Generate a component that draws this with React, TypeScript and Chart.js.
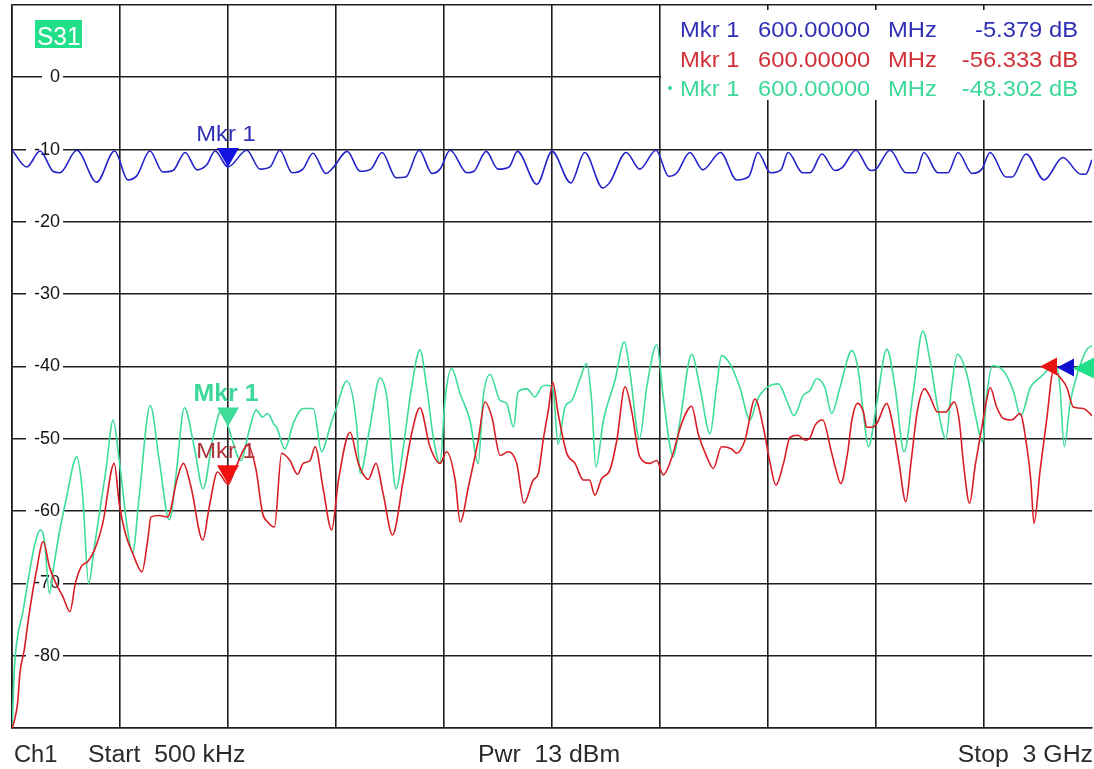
import React, { useEffect, useRef } from 'react';
import { Chart, registerables } from 'chart.js';

Chart.register(...registerables);

const FONT = "'Liberation Sans', Arial, Helvetica, sans-serif";

// ---- axes ----
const freqMinMHz = 0;
const freqMaxMHz = 3000;
const freqStepMHz = 300;
const dbMin = -90;
const dbMax = 10;
const dbStep = 10;

// ---- S31 traces (frequency MHz, level dB) ----
const blueFreq = [
  0.5, 41, 78, 114, 133, 180, 235, 285, 322, 347, 383, 419, 447, 481, 514, 541, 564, 600, 652, 689,
  717, 744, 778, 808, 836, 872, 892, 931, 967, 997, 1028, 1067, 1094, 1131, 1167, 1189, 1217, 1264,
  1283, 1317, 1350, 1381, 1404, 1458, 1500, 1552, 1591, 1641, 1661, 1706, 1744, 1789, 1824, 1847,
  1883, 1919, 1968, 2013, 2047, 2072, 2107, 2136, 2156, 2196, 2217, 2250, 2286, 2306, 2344, 2385,
  2400, 2439, 2483, 2511, 2533, 2572, 2600, 2628, 2667, 2694, 2717, 2761, 2778, 2817, 2867, 2919,
  2969, 2983, 3000,
];
const blueDb = [
  -10.1, -12.4, -10.2, -13.0, -13.2, -10.1, -14.5, -10.2, -14.2, -13.6, -10.2, -13.1, -12.9, -10.4,
  -12.8, -12.1, -10.2, -12.4, -10.1, -12.7, -12.4, -10.1, -13.2, -12.7, -10.5, -13.3, -12.5, -10.25,
  -13.0, -12.7, -10.4, -13.9, -13.8, -10.1, -13.3, -12.7, -10.1, -13.2, -13.0, -10.25, -12.7, -12.4,
  -10.25, -14.8, -10.25, -14.6, -10.4, -15.3, -14.5, -10.4, -12.7, -10.1, -13.7, -13.2, -10.4, -12.8,
  -10.4, -14.2, -13.7, -10.4, -13.2, -12.8, -10.4, -13.2, -13.2, -10.6, -12.9, -12.5, -10.1, -12.9,
  -12.7, -10.1, -13.2, -13.2, -10.4, -13.2, -13.2, -10.4, -13.3, -12.7, -10.4, -13.8, -13.8, -10.6,
  -14.2, -11.1, -13.4, -13.4, -11.4,
];

const redFreq = [
  0.5, 6.5, 15.7, 22, 34, 48, 66.7, 87, 104, 122, 141, 161, 176, 192, 210, 229, 252, 284, 298, 315,
  335, 361, 377, 386, 409, 432, 460, 476, 497, 530, 548, 571, 600, 622, 655, 678, 696, 710, 729, 749,
  772, 793, 809, 828, 842, 865, 888, 907, 939, 962, 990, 1011, 1031, 1057, 1087, 1110, 1133, 1161,
  1189, 1207, 1231, 1245, 1268, 1295, 1314, 1333, 1356, 1379, 1402, 1422, 1448, 1462, 1476, 1490,
  1502, 1517, 1541, 1564, 1587, 1604, 1619, 1638, 1661, 1680, 1703, 1721, 1744, 1772, 1791, 1809,
  1832, 1860, 1888, 1906, 1930, 1948, 1971, 1999, 2013, 2036, 2064, 2087, 2106, 2122, 2143, 2161,
  2183, 2204, 2217, 2231, 2252, 2275, 2289, 2302, 2321, 2333, 2349, 2365, 2374, 2388, 2402, 2430,
  2444, 2463, 2483, 2497, 2515, 2535, 2550, 2571, 2594, 2617, 2631, 2644, 2660, 2675, 2694, 2707,
  2717, 2735, 2754, 2777, 2800, 2819, 2830, 2839, 2856, 2874, 2893, 2911, 2930, 2948, 2976, 3000,
];
const redDb = [
  -90, -89, -86.5, -82.4, -79.2, -74.1, -68.6, -64.2, -67.7, -70, -71.8, -73.9, -70, -67.7, -67,
  -65.4, -61.7, -53.4, -59, -63.1, -65.8, -68.4, -64, -60.8, -60.6, -60.8, -55.3, -53.4, -56.6, -64,
  -59.4, -54.6, -56.3, -53.9, -50.9, -54.3, -60.3, -61.5, -62.2, -52, -53, -54.9, -53.4, -53, -51.1,
  -57.1, -62.6, -55.7, -49.1, -53.4, -55.6, -53.4, -57.6, -63.3, -55.7, -49.3, -45.7, -51.1, -53.4,
  -51.8, -55.7, -61.5, -56.6, -50.2, -44.9, -47, -52.3, -51.8, -53.4, -58.9, -55.7, -54.8, -50, -46,
  -42.2, -46.5, -52, -53.4, -55.7, -55.7, -57.8, -55.5, -54.3, -50.2, -42.8, -46.1, -52.5, -53.4,
  -53, -55, -52.7, -47.9, -45.5, -49.3, -52.5, -54.1, -51.1, -51.4, -52, -50.2, -44.5, -48.4, -53.4,
  -56.4, -53.4, -49.8, -49.5, -50.2, -49.8, -48.1, -47.4, -51.6, -54.3, -56.2, -52, -47.4, -45.1,
  -46.3, -48.4, -48.4, -47.9, -45.1, -47.4, -53, -58.7, -53.4, -46.1, -43.1, -44.2, -46.3, -46.3,
  -44.9, -47.4, -53.9, -58.9, -53.9, -48.4, -44.7, -42.9, -45.6, -47.2, -47.4, -46.5, -51.1, -55.7,
  -61.7, -54.3, -47.4, -40.6, -41.5, -42.9, -45.6, -45.8, -46.8,
];

const greenFreq = [
  0.5, 6.5, 15.7, 29.6, 48, 62, 78, 90, 104, 113, 131, 150, 180, 196, 213, 229, 261, 281, 298, 321,
  335, 354, 384, 409, 437, 456, 479, 506, 531, 557, 581, 600, 636, 659, 678, 696, 710, 729, 735, 758,
  781, 809, 837, 860, 883, 902, 930, 957, 967, 994, 1022, 1041, 1067, 1087, 1110, 1133, 1152, 1170,
  1189, 1203, 1221, 1245, 1272, 1295, 1309, 1328, 1356, 1374, 1393, 1406, 1430, 1453, 1471, 1485,
  1502, 1517, 1536, 1555, 1578, 1596, 1610, 1622, 1643, 1675, 1701, 1717, 1743, 1763, 1791, 1809,
  1837, 1856, 1888, 1911, 1939, 1957, 1971, 1994, 2022, 2050, 2069, 2097, 2129, 2152, 2172, 2198,
  2217, 2235, 2258, 2277, 2300, 2333, 2351, 2365, 2379, 2402, 2430, 2453, 2478, 2504, 2530, 2550,
  2573, 2594, 2610, 2626, 2652, 2675, 2696, 2707, 2724, 2754, 2781, 2802, 2829, 2856, 2883, 2902,
  2911, 2923, 2939, 2962, 2985, 3000,
];
const greenDb = [
  -90, -81.9, -77.3, -74.1, -68.6, -64.9, -62.6, -64, -71.4, -68.6, -63.1, -58.5, -52.5, -57.6, -70,
  -64.9, -54.3, -47.4, -53, -62.6, -65.8, -57.6, -45.4, -53, -61.2, -54.8, -45.7, -51.1, -56.9, -50.2,
  -46.1, -48.3, -53, -48.8, -46, -47, -46.5, -48.1, -48.4, -51.4, -47.9, -45.8, -45.8, -51.8, -48.4,
  -45.6, -42, -47.9, -54.8, -48.4, -41.6, -44.2, -56.9, -51.1, -42.9, -37.7, -42.9, -49.7, -53.4,
  -44.5, -40.3, -43.8, -47.4, -53.4, -44.2, -41.1, -44.7, -45.1, -48.4, -43.5, -43.1, -44.2, -42.8,
  -42.6, -42.9, -50.7, -45.6, -44.7, -41.7, -39.6, -44.7, -53.9, -47.4, -41.9, -36.6, -41, -50, -42.9,
  -37, -44.2, -52.5, -47.4, -38.3, -42.9, -49.3, -42.9, -38.5, -39.6, -42.9, -47.4, -44.7, -42.9,
  -42.4, -44.7, -46.8, -44, -43.3, -41.7, -42.9, -46.5, -42.9, -37.8, -40.6, -46.5, -51.1, -45.1,
  -37.6, -42.9, -51.8, -43.3, -35.1, -39.2, -46.1, -50, -42.9, -38.3, -41, -46.5, -50.4, -44.2, -39.9,
  -40.6, -43.3, -46.8, -42.9, -41.5, -40.3, -40.1, -42.9, -51.1, -45.1, -40.6, -37.7, -37.1,
];

// ---- texts ----
const traceName = 'S31';
const markerName = 'Mkr 1';
const markerFreqMHz = 600;
const markerFreqText = '600.00000';
const markerFreqUnit = 'MHz';
const markerReadouts = ['-5.379 dB', '-56.333 dB', '-48.302 dB'];
const footerTexts = ['Ch1', 'Start  500 kHz', 'Pwr  13 dBm', 'Stop  3 GHz'];
const refLevelDb = -40;
const legendFromMHz = 1800;

// ---- colours ----
const BLUE = '#2222c8';
const RED = '#d81e24';
const GREEN = '#3ddc98';
const BLUE_TXT = '#3030b4';
const RED_TXT = '#d03038';
const GREEN_TXT = '#3cd89a';
const GRID = '#1e1e1e';

const pts = (f: number[], d: number[]) => f.map((x, i) => ({ x, y: d[i] }));

function txt(ctx: CanvasRenderingContext2D, s: string, x: number, y: number, font: string,
  color: string, align: CanvasTextAlign, sx: number) {
  ctx.save();
  ctx.font = font;
  ctx.fillStyle = color;
  ctx.textBaseline = 'alphabetic';
  ctx.textAlign = align;
  ctx.translate(x, y);
  ctx.scale(sx, 1);
  ctx.fillText(s, 0, 0);
  ctx.restore();
}

function poly(ctx: CanvasRenderingContext2D, p: number[][], color: string) {
  ctx.save();
  ctx.beginPath();
  ctx.moveTo(p[0][0], p[0][1]);
  for (let i = 1; i < p.length; i++) ctx.lineTo(p[i][0], p[i][1]);
  ctx.closePath();
  ctx.fillStyle = color;
  ctx.fill();
  ctx.restore();
}

const zeroFit = (s: any) => {
  if (s.isHorizontal()) s.height = 0; else s.width = 0;
  s.paddingTop = 0;
  s.paddingBottom = 0;
  s.paddingLeft = 0;
  s.paddingRight = 0;
};

const overlay = {
  id: 'overlay',
  beforeDraw(chart: any) {
    const { ctx, width, height } = chart;
    ctx.save();
    ctx.fillStyle = '#ffffff';
    ctx.fillRect(0, 0, width, height);
    ctx.restore();
  },
  beforeDatasetsDraw(chart: any) {
    const { ctx } = chart;
    const xs = chart.scales.x;
    const ys = chart.scales.y;
    const left = xs.getPixelForValue(legendFromMHz) + 1.2;
    ctx.save();
    ctx.fillStyle = '#ffffff';
    ctx.fillRect(left, ys.top + 5, chart.width - left, 90);
    ctx.restore();
  },
  afterDatasetsDraw(chart: any) {
    const { ctx } = chart;
    const xs = chart.scales.x;
    const ys = chart.scales.y;
    const area = chart.chartArea;

    // S31 badge
    ctx.save();
    ctx.fillStyle = '#22e08a';
    ctx.fillRect(area.left + 23, area.top + 15, 47, 28);
    ctx.restore();
    txt(ctx, traceName, area.left + 25, area.top + 40, `25px ${FONT}`, '#ffffff', 'left', 0.98);

    // marker triangles and labels
    const mx = xs.getPixelForValue(markerFreqMHz);
    const at = (f: number[], d: number[]) => d[f.indexOf(markerFreqMHz)];
    const marks = [
      { v: at(greenFreq, greenDb), c: GREEN, tc: GREEN_TXT, font: `bold 23px ${FONT}` },
      { v: at(redFreq, redDb), c: '#f01010', tc: '#b03038', font: `22px ${FONT}` },
      { v: at(blueFreq, blueDb), c: '#1414e0', tc: BLUE_TXT, font: `22px ${FONT}` },
    ];
    for (const m of marks) {
      const ty = ys.getPixelForValue(m.v);
      txt(ctx, markerName, mx - 2, ty - 26, m.font, m.tc, 'center', 1.08);
      poly(ctx, [[mx, ty], [mx - 11, ty - 19], [mx + 11, ty - 19]], m.c);
    }

    // reference level arrows at the right edge
    const ry = ys.getPixelForValue(refLevelDb);
    const r = area.right;
    poly(ctx, [[r - 52, ry], [r - 35, ry - 9], [r - 35, ry + 9]], '#e81414');
    poly(ctx, [[r - 35, ry + 1], [r - 18, ry - 8], [r - 18, ry + 10]], '#1010d0');
    poly(ctx, [[r - 19, ry + 2], [r + 2, ry - 9], [r + 2, ry + 12]], '#22e08a');

    // marker readout table
    const lx = xs.getPixelForValue(legendFromMHz);
    const rows = [BLUE_TXT, RED_TXT, GREEN_TXT];
    const lf = `22px ${FONT}`;
    rows.forEach((c, i) => {
      const by = ys.top + 32 + i * 29.5;
      txt(ctx, markerName, lx + 20, by, lf, c, 'left', 1.08);
      txt(ctx, markerFreqText, lx + 98, by, lf, c, 'left', 1.08);
      txt(ctx, markerFreqUnit, lx + 228, by, lf, c, 'left', 1.08);
      txt(ctx, markerReadouts[i], lx + 418, by, lf, c, 'right', 1.08);
    });
    ctx.save();
    ctx.fillStyle = GREEN_TXT;
    ctx.beginPath();
    ctx.arc(lx + 10, ys.top + 32 + 2 * 29.5 - 8, 2, 0, Math.PI * 2);
    ctx.fill();
    ctx.restore();

    // footer
    const ff = `23px ${FONT}`;
    const fy = area.bottom + 34;
    const fc = '#2a2a2a';
    txt(ctx, footerTexts[0], 14, fy, ff, fc, 'left', 1.03);
    txt(ctx, footerTexts[1], 88, fy, ff, fc, 'left', 1.08);
    txt(ctx, footerTexts[2], (area.left + area.right) / 2 - 3, fy, ff, fc, 'center', 1.08);
    txt(ctx, footerTexts[3], area.right + 1, fy, ff, fc, 'right', 1.08);
  },
};

export default function App() {
  const ref = useRef<HTMLCanvasElement | null>(null);
  useEffect(() => {
    if (!ref.current) return;
    const edge = (v: number) => v === dbMax || v === dbMin;
    const line = (label: string, f: number[], d: number[], color: string) => ({
      label, data: pts(f, d), borderColor: color, borderWidth: 1.6, pointRadius: 0,
      cubicInterpolationMode: 'monotone', tension: 0.3,
    });
    const chart = new Chart(ref.current, {
      type: 'line',
      data: {
        datasets: [
          line('Trc blue', blueFreq, blueDb, BLUE),
          line('Trc red', redFreq, redDb, RED),
          line('Trc green', greenFreq, greenDb, GREEN),
        ],
      },
      options: {
        responsive: false,
        maintainAspectRatio: false,
        devicePixelRatio: 1,
        animation: false,
        events: [],
        layout: { padding: { left: 12, top: 5, right: 2, bottom: 41 } },
        plugins: { legend: { display: false }, tooltip: { enabled: false }, title: { display: false } },
        scales: {
          x: {
            type: 'linear',
            min: freqMinMHz,
            max: freqMaxMHz,
            afterFit: zeroFit,
            ticks: { display: false, stepSize: freqStepMHz },
            grid: {
              drawTicks: false,
              lineWidth: 1.6,
              color: (c: any) => (c.tick && c.tick.value === freqMaxMHz ? 'rgba(0,0,0,0)' : GRID),
            },
            border: { display: true, color: GRID, width: 1.6 },
          },
          y: {
            type: 'linear',
            min: dbMin,
            max: dbMax,
            afterFit: zeroFit,
            ticks: {
              stepSize: dbStep,
              mirror: true,
              crossAlign: 'far',
              padding: 22,
              color: '#141414',
              font: { family: FONT, size: 18 },
              callback: (v: any) => (edge(Number(v)) ? '' : String(v)),
              showLabelBackdrop: (c: any) => !(c.tick && edge(c.tick.value)),
              backdropColor: (c: any) => (c.tick && edge(c.tick.value) ? 'rgba(0,0,0,0)' : '#ffffff'),
              backdropPadding: { left: 8, right: 3, top: 1, bottom: 1 },
            } as any,
            grid: { drawTicks: false, lineWidth: 1.6, color: GRID },
            border: { display: true, color: GRID, width: 1.6 },
          },
        },
      },
      plugins: [overlay],
    } as any);
    return () => chart.destroy();
  }, []);
  return (
    <div style={{ position: 'absolute', left: 0, top: 0, width: 1094, height: 769 }}>
      <canvas ref={ref} width={1094} height={769} style={{ display: 'block' }} />
    </div>
  );
}
